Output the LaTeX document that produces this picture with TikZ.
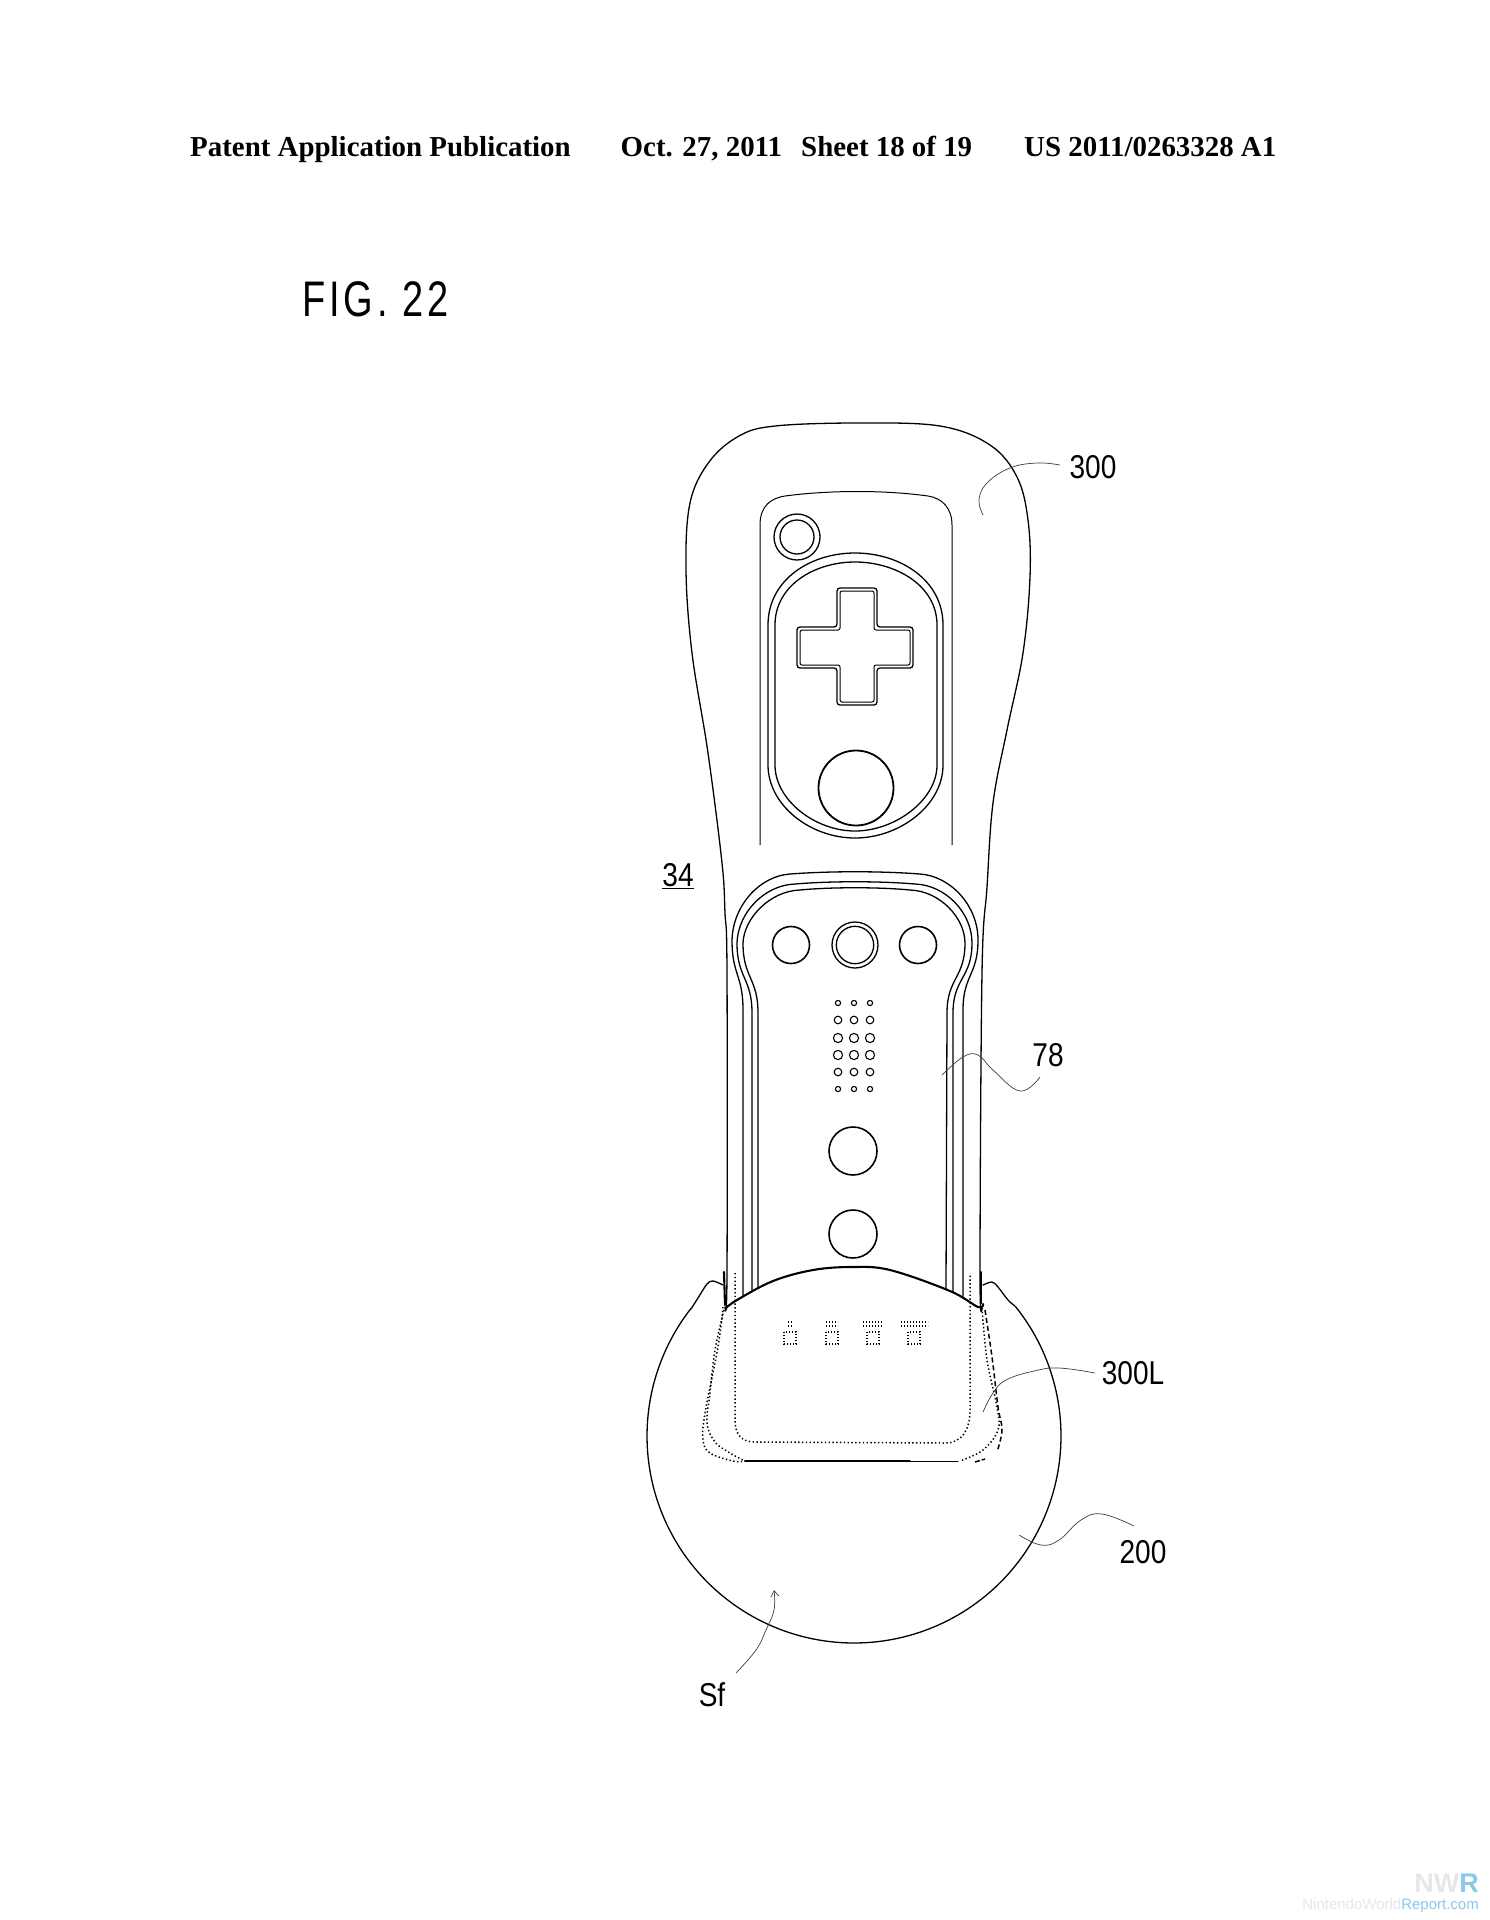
\documentclass[tikz,border=0pt]{standalone}
\usepackage{fontspec}
\setmainfont{Liberation Serif}
\newfontfamily\lab[FakeStretch=0.85]{Liberation Sans}
\newfontfamily\figf[FakeStretch=0.76,LetterSpace=8]{Liberation Sans}
\newfontfamily\wm{Liberation Sans}
\usetikzlibrary{arrows.meta}
\definecolor{wmblue}{HTML}{8CC8EA}
\definecolor{wmgrey}{HTML}{E4E8EB}
\tikzset{
  outline/.style={draw=black,line width=1.3pt,line join=round,line cap=round},
  thinline/.style={draw=black,line width=1pt,line join=round},
  heavy/.style={draw=black,line width=2.1pt,line cap=round},
  dots/.style={draw=black,line width=1.5pt,dash pattern=on 1.4pt off 2.4pt},
  leader/.style={draw=black!75,line width=.7pt},
  hdr/.style={inner sep=0pt,anchor=base west,font=\fontsize{28.9}{30}\selectfont\bfseries},
  lbl/.style={inner sep=0pt,font=\lab\fontsize{33}{36}\selectfont},
  led/.style={draw=black,line width=1.1pt,dash pattern=on 1.4pt off 1.6pt},
}
\begin{document}
\begin{tikzpicture}[x=1pt,y=-1pt]
\useasboundingbox (0,0) rectangle (1489,1920);
\fill[white] (0,0) rectangle (1489,1920);
% header
\node[hdr] (h1) at (190,156) {Patent Application Publication};
\node[hdr] (h2) at (620.5,156) {Oct. 27, 2011};
\node[hdr] (h3) at (801,156) {Sheet 18 of 19};
\node[hdr] (h4) at (1024,156) {US 2011/0263328 A1};
\node[inner sep=0pt,anchor=base west,font=\figf\fontsize{50}{52}\selectfont] (fig) at (302,316) {FIG. 22};
% body
\draw[outline] plot[smooth,tension=.6] coordinates {(725,1307)(727,1273)(727,973)(725,913)(722,863)(708,753)(692,653)(686,570)(690,503)(709,462)(739,436)(775,426)(857,423)(940,426)(990,445)(1017,477)(1028,520)(1030,577)(1023,653)(1007,730)(993,803)(987,887)(982,973)(980,1273)(982,1308)};
% upper panel
\draw[thinline] (760,845) -- (760,525) .. controls (760,505) and (772,498) .. (785,496) .. controls (830,490) and (885,490) .. (928,496) .. controls (942,498) and (952,508) .. (952,525) -- (952,845);
\draw[outline,fill=white] (797,537) circle (23);
\draw[outline] (797,537) circle (17);
\draw[outline] (768,625) .. controls (768,580) and (810,553) .. (855,553) .. controls (900,553) and (943,580) .. (943,625) -- (943,765) .. controls (943,805) and (900,838) .. (855,838) .. controls (810,838) and (768,805) .. (768,765) -- cycle;
\draw[outline] (775,625) .. controls (775,585) and (815,562) .. (855,562) .. controls (895,562) and (937,585) .. (937,625) -- (937,765) .. controls (937,800) and (895,831) .. (855,831) .. controls (815,831) and (775,800) .. (775,765) -- cycle;
\draw[outline,rounded corners=3pt] (837,588) -- (877,588) -- (877,627) -- (913,627) -- (913,668) -- (877,668) -- (877,705) -- (837,705) -- (837,668) -- (797,668) -- (797,627) -- (837,627) -- cycle;
\draw[thinline,rounded corners=2pt] (840,591) -- (874,591) -- (874,630) -- (910,630) -- (910,665) -- (874,665) -- (874,702) -- (840,702) -- (840,665) -- (800,665) -- (800,630) -- (840,630) -- cycle;
\draw[heavy,line width=1.8pt] (856,788) circle (37.5);
% remote outlines
\draw[outline] (743,1296) -- (743,1010) .. controls (743,975) and (732,975) .. (732,940) .. controls (733,905) and (760,876) .. (790,874) .. controls (830,871) and (880,871) .. (920,874) .. controls (950,876) and (978,905) .. (978,940) .. controls (978,975) and (963,975) .. (963,1010) -- (963,1298);
\draw[outline] (752,1291) -- (752,1013) .. controls (752,978) and (737,978) .. (737,943) .. controls (738,912) and (765,885) .. (795,884) .. controls (830,881) and (880,881) .. (915,884) .. controls (945,885) and (972,912) .. (972,943) .. controls (972,978) and (953,978) .. (953,1013) -- (953,1292);
\draw[outline] (758,1288) -- (758,1013) .. controls (758,978) and (743,978) .. (743,943) .. controls (744,918) and (770,891) .. (800,890) .. controls (830,887) and (880,887) .. (910,890) .. controls (940,891) and (965,918) .. (965,943) .. controls (965,978) and (947,978) .. (947,1013) -- (946,1289);
% buttons
\draw[heavy,line width=1.6pt] (791,945) circle (18.5);
\draw[outline] (855,945) circle (23);
\draw[outline] (855,945) circle (18.7);
\draw[heavy,line width=1.6pt] (918,945) circle (18.5);
\draw[heavy,line width=1.6pt] (853,1151) circle (24);
\draw[heavy,line width=1.6pt] (853,1234) circle (24);
% speaker
\foreach \r/\y in {2.6/1003,3.8/1020,4.6/1038,4.6/1055,3.8/1072,2.6/1089}
  \foreach \x in {838,854,870}
    \draw[line width=1.1pt] (\x,\y) circle (\r);
% base
\draw[outline] plot[smooth,tension=.55] coordinates {(723,1285)(713,1281)(707,1284)(698,1298)(691,1309)};
\draw[outline] plot[domain=-38.66:217.9,samples=160,variable=\t] ({854+207*cos(\t)},{1436+207*sin(\t)});
\draw[outline] plot[smooth,tension=.55] coordinates {(983,1285)(992,1282)(998,1287)(1008,1300)(1015,1306)};
\draw[heavy] (724,1272) -- (725,1305);
\draw[heavy] (981,1272) -- (981,1303);
\draw[heavy] plot[smooth,tension=.6] coordinates {(726,1308)(737,1300)(773,1281)(813,1270)(852,1267)(890,1270)(950,1291)(978,1307)(983,1304)};
% hidden lines
\draw[dots] (735,1273) -- (735,1420) .. controls (735,1435) and (742,1442) .. (755,1442) -- (945,1443) .. controls (962,1443) and (970,1430) .. (970,1410) -- (970,1273);
\draw[dots] plot[smooth,tension=.6] coordinates {(723,1307)(718,1347)(705,1413)(703,1440)(710,1453)(733,1461)(745,1461)};
\draw[dots] plot[smooth,tension=.6] coordinates {(724,1310)(715,1350)(710,1393)(707,1423)(715,1442)(730,1453)(745,1461)};
\draw[dots] plot[smooth,tension=.6] coordinates {(982,1308)(987,1360)(997,1407)(998,1430)(983,1450)(960,1461)};
\draw[dots,dash pattern=on 5pt off 3pt] plot[smooth,tension=.6] coordinates {(985,1310)(992,1357)(998,1407)(1002,1430)(997,1452)};
\draw[dots,dash pattern=on 5pt off 2pt] (975,1462) -- (985,1459);
\draw[heavy,line width=1.8pt] (745,1461) -- (910,1461);
\draw[outline,line width=1pt] (910,1461) -- (958,1461);
% LEDs
\foreach \x/\w in {790/5,832/12,873/20,914/27}{
  \draw[led] (\x-\w/2,1322) -- (\x+\w/2,1322);
  \draw[led] (\x-\w/2,1326) -- (\x+\w/2,1326);
  \draw[led] (\x-6,1332) rectangle (\x+6,1344);
}
% labels
\node[lbl] (l300) at (1093,467) {300};
\node[lbl] (l34) at (678,876) {\underline{34}};
\node[lbl] (l78) at (1048,1055) {78};
\node[lbl] (l300L) at (1133,1373) {300L};
\node[lbl] (l200) at (1143,1552) {200};
\node[lbl] (lSf) at (712,1695) {Sf};
% leaders
\draw[leader] plot[smooth,tension=.7] coordinates {(1060,465)(1037,463)(1010,468)(987,483)(979,500)(983,515)};
\draw[leader] plot[smooth,tension=.7] coordinates {(942,1075)(963,1057)(978,1055)(993,1070)(1020,1091)(1040,1077)};
\draw[leader] plot[smooth,tension=.7] coordinates {(1095,1373)(1059,1368)(1034,1371)(1006,1380)(993,1393)(983,1412)};
\draw[leader] plot[smooth,tension=.7] coordinates {(1134,1526)(1102,1514)(1081,1520)(1059,1540)(1041,1545)(1019,1535)};
\draw[leader,-{Straight Barb[length=6pt,width=8pt]}] plot[smooth,tension=.7] coordinates {(736,1673)(756,1650)(766,1630)(774,1610)(774,1590)};
% watermark
\node[inner sep=0pt,anchor=base east,font=\wm\bfseries\fontsize{27}{32}\selectfont] (wm1) at (1479,1892) {\textcolor{wmgrey}{NW}\textcolor{wmblue}{R}};
\node[inner sep=0pt,anchor=base east,font=\wm\fontsize{15}{19}\selectfont] (wm2) at (1479,1909) {\textcolor{wmgrey}{NintendoWorld}\textcolor{wmblue}{Report.com}};
\end{tikzpicture}
\end{document}
